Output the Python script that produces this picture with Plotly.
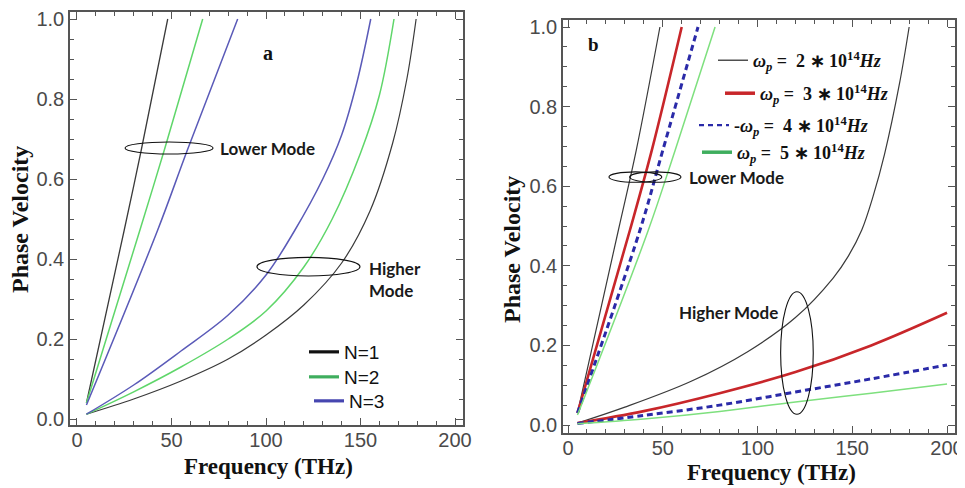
import plotly.graph_objects as go

# ---------------- Panel a data (Phase velocity vs Frequency, N = 1,2,3) ----------------
a_low_n1_x = [5, 25, 34, 48]
a_low_n1_y = [0.04, 0.4725, 0.6725, 1.0]
a_low_n2_x = [5, 33.3, 46.2, 66.5]
a_low_n2_y = [0.04, 0.4725, 0.6725, 1.0]
a_low_n3_x = [5, 42.7, 58.4, 85]
a_low_n3_y = [0.035, 0.4725, 0.6725, 1.0]

a_high_n1_x = [5, 30, 55, 80, 100, 120, 140, 155, 167, 174.5, 179.4]
a_high_n1_y = [0.012, 0.05, 0.095, 0.15, 0.21, 0.285, 0.39, 0.52, 0.69, 0.85, 1.0]
a_high_n2_x = [5, 30, 55, 80, 100, 120, 135, 150, 160, 167.7]
a_high_n2_y = [0.012, 0.068, 0.13, 0.2, 0.27, 0.38, 0.5, 0.665, 0.81, 1.0]
a_high_n3_x = [5, 30, 55, 80, 100, 115, 130, 140, 148, 155.4]
a_high_n3_y = [0.012, 0.085, 0.17, 0.26, 0.36, 0.47, 0.6, 0.71, 0.84, 1.0]

# ---------------- Panel b data (wp = 2,3,4,5 x 10^14 Hz) ----------------
b_low_w2_x = [5, 26.6, 36, 48.5]
b_low_w2_y = [0.03, 0.49, 0.69, 1.0]
b_low_w3_x = [5, 32.7, 44.2, 60]
b_low_w3_y = [0.03, 0.49, 0.69, 1.0]
b_low_w4_x = [5, 38, 50, 68.6]
b_low_w4_y = [0.03, 0.49, 0.69, 1.0]
b_low_w5_x = [5, 42.4, 56.5, 77.6]
b_low_w5_y = [0.025, 0.49, 0.69, 1.0]

b_high_w2_x = [5, 30, 65, 95, 120, 140, 148, 155, 161, 167, 175, 180]
b_high_w2_y = [0.005, 0.045, 0.11, 0.185, 0.27, 0.37, 0.425, 0.49, 0.575, 0.68, 0.86, 1.0]
b_high_w3_x = [5, 40, 80, 120, 160, 200]
b_high_w3_y = [0.005, 0.035, 0.08, 0.133, 0.2, 0.282]
b_high_w4_x = [5, 40, 80, 120, 160, 200]
b_high_w4_y = [0.004, 0.024, 0.05, 0.083, 0.116, 0.151]
b_high_w5_x = [5, 40, 80, 120, 160, 200]
b_high_w5_y = [0.003, 0.015, 0.034, 0.058, 0.08, 0.103]

legend_a_labels = ["N=1", "N=2", "N=3"]
legend_b_labels = [
    "<b><i>ω<sub>p</sub></i> =  2 ∗ 10<sup>14</sup><i>Hz</i></b>",
    "<b><i>ω<sub>p</sub></i> =  3 ∗ 10<sup>14</sup><i>Hz</i></b>",
    "<b>-<i>ω<sub>p</sub></i> =  4 ∗ 10<sup>14</sup><i>Hz</i></b>",
    "<b><i>ω<sub>p</sub></i> =  5 ∗ 10<sup>14</sup><i>Hz</i></b>",
]

x_ticks = [0, 50, 100, 150, 200]
y_ticks = [0.0, 0.2, 0.4, 0.6, 0.8, 1.0]

# colours
C_BLACK = "#3a3a3a"
C_GREEN_A = "#5fd66a"
C_BLUE_A = "#5a5ab8"
C_RED_B = "#c8262a"
C_BLUE_B = "#2a2aa8"
C_GREEN_B = "#7ee07e"
SHORT_DASH = "6px,4px"

fig = go.Figure()

def curve(x, y, color, width, xa, ya, dash="solid"):
    fig.add_trace(go.Scatter(x=x, y=y, mode="lines", xaxis=xa, yaxis=ya,
                             line=dict(color=color, width=width, dash=dash, shape="spline", smoothing=1.0),
                             showlegend=False, hoverinfo="skip"))

# panel a curves
curve(a_low_n1_x, a_low_n1_y, C_BLACK, 1.3, "x", "y")
curve(a_low_n2_x, a_low_n2_y, C_GREEN_A, 1.5, "x", "y")
curve(a_low_n3_x, a_low_n3_y, C_BLUE_A, 1.5, "x", "y")
curve(a_high_n1_x, a_high_n1_y, C_BLACK, 1.2, "x", "y")
curve(a_high_n2_x, a_high_n2_y, C_GREEN_A, 1.5, "x", "y")
curve(a_high_n3_x, a_high_n3_y, C_BLUE_A, 1.5, "x", "y")

# panel b curves
curve(b_low_w2_x, b_low_w2_y, C_BLACK, 1.2, "x2", "y2")
curve(b_low_w3_x, b_low_w3_y, C_RED_B, 2.6, "x2", "y2")
curve(b_low_w4_x, b_low_w4_y, C_BLUE_B, 3.0, "x2", "y2", dash=SHORT_DASH)
curve(b_low_w5_x, b_low_w5_y, C_GREEN_B, 1.5, "x2", "y2")
curve(b_high_w2_x, b_high_w2_y, C_BLACK, 1.2, "x2", "y2")
curve(b_high_w3_x, b_high_w3_y, C_RED_B, 2.6, "x2", "y2")
curve(b_high_w4_x, b_high_w4_y, C_BLUE_B, 3.0, "x2", "y2", dash=SHORT_DASH)
curve(b_high_w5_x, b_high_w5_y, C_GREEN_B, 1.5, "x2", "y2")

# the page body has an 8 px margin, so the figure is drawn at (8, 8) inside the window
OFF = 8
W, H = 965 - OFF, 488 - OFF
def px(x):
    return (x - OFF) / W
def py(y):
    return 1 - (y - OFF) / H

# legend entries: each in its own legend box so it can be placed like the reference
legend_layout = {}
a_leg_cols = ["#111111", "#3fae5e", "#4646b0"]
a_leg_pos = [(304, 352), (304, 377), (309, 401)]
for i, (lab, col, (lx, ly)) in enumerate(zip(legend_a_labels, a_leg_cols, a_leg_pos)):
    key = "legend" if i == 0 else "legend%d" % (i + 1)
    fig.add_trace(go.Scatter(x=[None], y=[None], mode="lines", name=lab, xaxis="x", yaxis="y",
                             line=dict(color=col, width=3.2), legend=key))
    legend_layout[key] = dict(x=px(lx), y=py(ly - 19), xanchor="left", yanchor="top",
                              bgcolor="rgba(0,0,0,0)",
                              font=dict(family="Liberation Sans, Arial", size=19, color="#111111"))

b_leg_cols = ["#222222", C_RED_B, C_BLUE_B, "#3fae5e"]
b_leg_w = [1.2, 3.5, 2.2, 3.5]
b_leg_dash = ["solid", "solid", "5px,4px", "solid"]
b_leg_pos = [(713, 58), (720, 91), (694, 123), (697, 150)]
for i, (lab, col, w, d, (lx, ly)) in enumerate(zip(legend_b_labels, b_leg_cols, b_leg_w, b_leg_dash, b_leg_pos)):
    key = "legend%d" % (i + 4)
    fig.add_trace(go.Scatter(x=[None], y=[None], mode="lines", name=lab, xaxis="x2", yaxis="y2",
                             line=dict(color=col, width=w, dash=d), legend=key))
    legend_layout[key] = dict(x=px(lx), y=py(ly - 16), xanchor="left", yanchor="top",
                              bgcolor="rgba(0,0,0,0)",
                              font=dict(family="Liberation Serif, Times New Roman", size=18, color="#111111"))

axis_common = dict(showline=True, linecolor="#555555", linewidth=1.5, mirror="allticks",
                   ticks="inside", ticklen=7, tickwidth=1.2, tickcolor="#555555",
                   showgrid=False, zeroline=False, automargin=False,
                   tickfont=dict(family="Liberation Sans, Arial", size=20, color="#4a4a4a"))
minor_x = dict(ticks="inside", ticklen=4, dtick=10, tick0=0, tickcolor="#555555", tickwidth=1)
minor_y = dict(ticks="inside", ticklen=4, dtick=0.05, tick0=0, tickcolor="#555555", tickwidth=1)

fig.update_layout(
    width=W, height=H, margin=dict(l=0, r=0, t=0, b=0, autoexpand=False),
    paper_bgcolor="white", plot_bgcolor="white",
    xaxis=dict(domain=[px(70), px(463)], range=[-3.7, 204.2], tickvals=x_ticks, anchor="y",
               minor=minor_x, ticklabelstandoff=-4, **axis_common),
    yaxis=dict(domain=[py(425), py(12)], range=[-0.015, 1.0175], tickvals=y_ticks, tickformat=".1f", anchor="x",
               minor=minor_y, **axis_common),
    xaxis2=dict(domain=[px(563), px(955)], range=[-2.64, 204.2], tickvals=x_ticks, anchor="y2",
                minor=minor_x, ticklabelstandoff=-4, **axis_common),
    yaxis2=dict(domain=[py(433), py(20)], range=[-0.02, 1.0176], tickvals=y_ticks, tickformat=".1f", anchor="x2",
                minor=minor_y, **axis_common),
    showlegend=True,
    **legend_layout,
)

# ellipses
ell = dict(type="circle", line=dict(color="#111111", width=1.1), fillcolor="rgba(0,0,0,0)", layer="above")
fig.add_shape(xref="x", yref="y", x0=25.4, x1=72, y0=0.6625, y1=0.6925, **ell)
fig.add_shape(xref="x", yref="y", x0=95.2, x1=149.7, y0=0.3575, y1=0.404, **ell)
fig.add_shape(xref="x2", yref="y2", x0=21.6, x1=49.5, y0=0.61, y1=0.636, **ell)
fig.add_shape(xref="x2", yref="y2", x0=32.5, x1=59.6, y0=0.61, y1=0.636, **ell)
fig.add_shape(xref="x2", yref="y2", x0=112.2, x1=129.4, y0=0.027, y1=0.335, **ell)

mode_font = dict(family="Lato, Open Sans", size=17, color="#1a1a1a")
def note(text, x, y, xref, yref, font, xanchor="left", align="left"):
    fig.add_annotation(text=text, x=x, y=y, xref=xref, yref=yref, showarrow=False,
                       xanchor=xanchor, yanchor="middle", align=align, font=font)

note("<b>Lower Mode</b>", 74.5, 0.6775, "x", "y", mode_font)
note("<b>Higher<br>Mode</b>", 153.5, 0.35, "x", "y", mode_font)
note("<b>Lower Mode</b>", 63.0, 0.623, "x2", "y2", mode_font)
note("<b>Higher Mode</b>", 57.4, 0.282, "x2", "y2", mode_font)

serif_bold = dict(family="Liberation Serif, Times New Roman", color="#111111")
note("<b>a</b>", 101, 0.915, "x", "y", dict(size=20, **serif_bold), xanchor="center")
note("<b>b</b>", 13.2, 0.957, "x2", "y2", dict(size=19, **serif_bold), xanchor="center")

# axis titles
for xc, yc in [(px(268), py(466)), (px(771), py(472))]:
    fig.add_annotation(text="<b>Frequency (THz)</b>", x=xc, y=yc, xref="paper", yref="paper",
                       showarrow=False, xanchor="center", yanchor="middle", borderpad=0,
                       font=dict(size=23, **serif_bold))
for xc, yc in [(px(20), py(220)), (px(512), py(250))]:
    fig.add_annotation(text="<b>Phase Velocity</b>", x=xc, y=yc, xref="paper", yref="paper",
                       showarrow=False, xanchor="center", yanchor="middle", textangle=-90,
                       font=dict(size=24, **serif_bold))

fig.write_html("out.html")
